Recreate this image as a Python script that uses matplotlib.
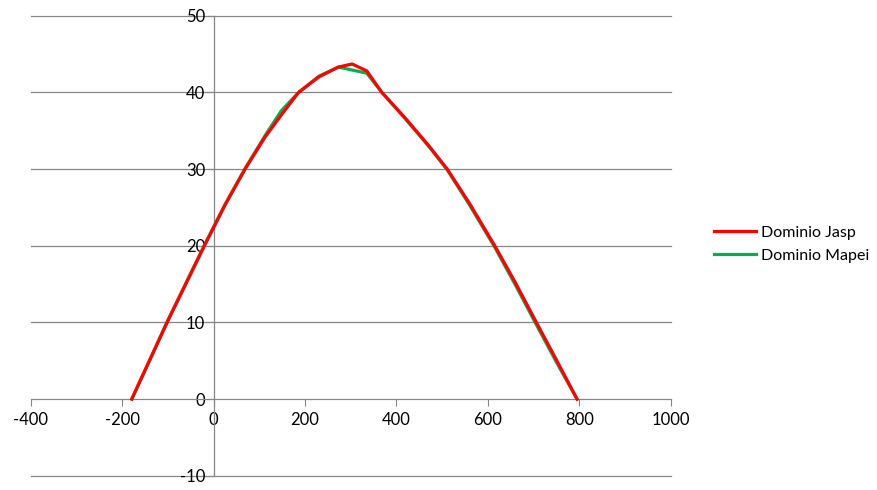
import matplotlib
matplotlib.use("Agg")
import matplotlib.pyplot as plt

plt.rcParams['font.family'] = ['Lato', 'DejaVu Sans']
plt.rcParams['axes.unicode_minus'] = False

# Datos
x_jasp = [-179, -100, -20, 25, 69, 113, 150, 186, 230, 273, 303, 335, 368, 420, 470, 511, 560, 615, 660, 706, 750, 795]
y_jasp = [0, 10.2, 20, 25.3, 30, 34.2, 37.2, 40, 42.0, 43.3, 43.7, 42.8, 40, 36.6, 33.1, 30, 25.5, 20, 15.2, 10, 5.1, 0]

x_mapei = [-179, -100, -20, 25, 69, 113, 148, 186, 230, 273, 335, 368, 420, 470, 511, 560, 615, 660, 706, 750, 795]
y_mapei = [0, 10.3, 20.1, 25.4, 30.1, 34.4, 37.6, 40, 42.1, 43.3, 42.5, 40, 36.5, 33.0, 29.9, 25.3, 19.8, 14.9, 9.7, 4.8, 0]

series_names = ['Dominio Jasp', 'Dominio Mapei']
x_ticks = [-400, -200, 0, 200, 400, 600, 800, 1000]
y_ticks = [-10, 0, 10, 20, 30, 40, 50]

fig = plt.figure(figsize=(8.78, 4.90), dpi=100)
ax = fig.add_axes([0.035, 0.029, 0.729, 0.939])

grid_color = '#868686'
for y in y_ticks:
    if y != 0:
        ax.axhline(y, color=grid_color, lw=0.9, zorder=1, clip_on=False)

l2, = ax.plot(x_mapei, y_mapei, color='#00B050', lw=2.3, zorder=3, label=series_names[1])
l1, = ax.plot(x_jasp, y_jasp, color='#FF0000', lw=2.3, zorder=4, label=series_names[0])

ax.set_xlim(-400, 1000)
ax.set_ylim(-10, 50)
ax.set_xticks(x_ticks)
ax.set_yticks(y_ticks)

ax.spines['left'].set_position(('data', 0))
ax.spines['bottom'].set_position(('data', 0))
ax.spines['top'].set_visible(False)
ax.spines['right'].set_visible(False)
for s in ['left', 'bottom']:
    ax.spines[s].set_color(grid_color)
    ax.spines[s].set_linewidth(0.9)

ax.tick_params(axis='x', direction='out', length=5, color=grid_color, labelsize=12, pad=4)
ax.tick_params(axis='y', direction='out', length=5, color=grid_color, labelsize=12, pad=1)

fig.legend(handles=[l1, l2], labels=series_names, loc='center left',
           bbox_to_anchor=(0.797, 0.502), frameon=False, fontsize=11.5,
           handlelength=2.6, handletextpad=0.35, labelspacing=0.55)

fig.savefig('out.png', dpi=100)
